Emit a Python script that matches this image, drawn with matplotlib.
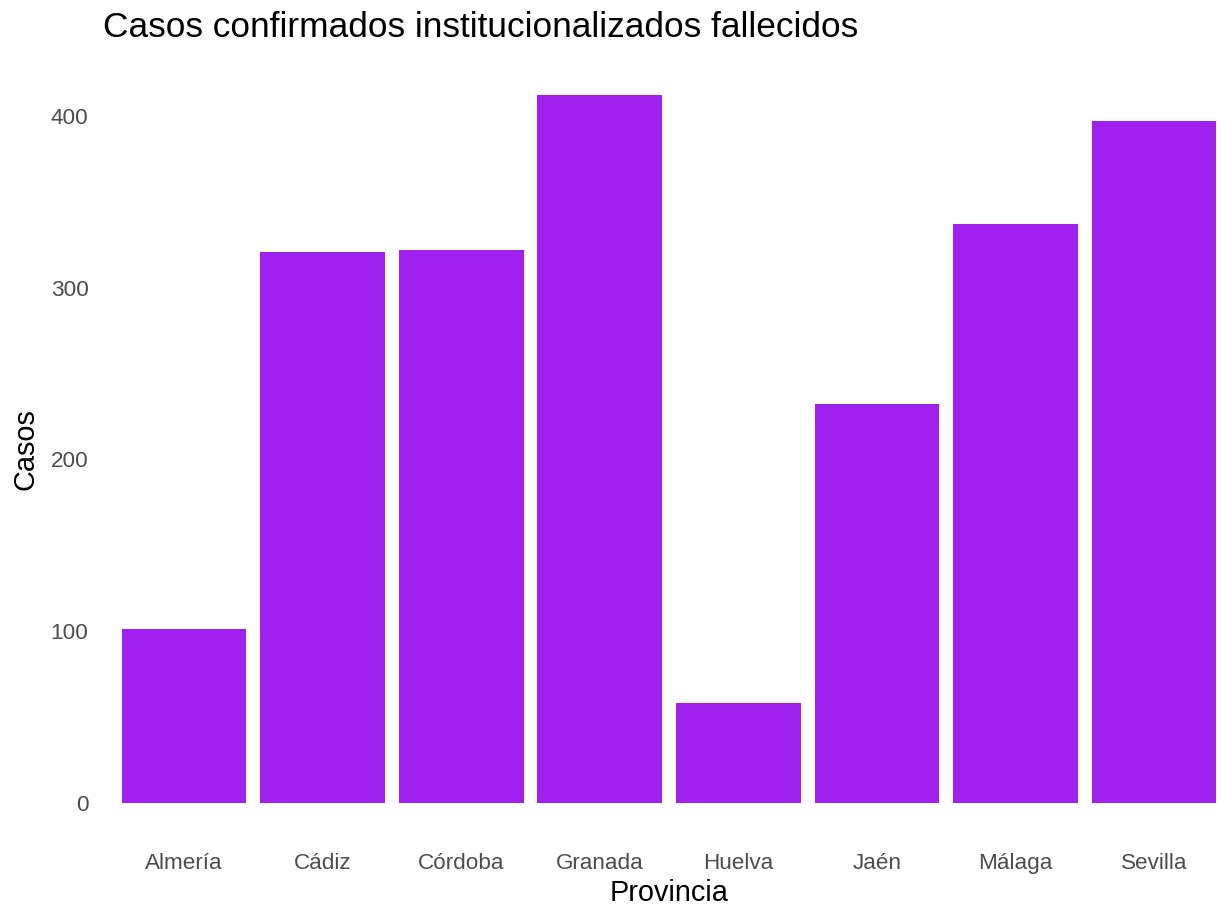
import matplotlib
matplotlib.use("Agg")
import matplotlib.pyplot as plt

provincias = ["Almería", "Cádiz", "Córdoba", "Granada", "Huelva", "Jaén", "Málaga", "Sevilla"]
casos = [101, 321, 322, 412, 58, 232, 337, 397]
yticks = [0, 100, 200, 300, 400]

plt.rcParams['font.family'] = ['Liberation Sans', 'DejaVu Sans']

fig = plt.figure(figsize=(12.22, 9.09), dpi=100)
ax = fig.add_axes([101/1222, 71/909, (1222-101)/1222, (838-60)/909])

x = list(range(1, len(provincias) + 1))
ax.bar(x, casos, width=0.9, color="#A020F0", zorder=2)

ymax = max(casos)
ax.set_ylim(-0.05*ymax, ymax*1.05)
ax.set_xlim(0.4, 8.49)
ax.set_yticks(yticks)
ax.set_xticks(x)
ax.set_xticklabels(provincias)

for s in ax.spines.values():
    s.set_visible(False)
ax.tick_params(axis='both', length=0, labelsize=16.2, colors="#4D4D4D")
ax.tick_params(axis='x', pad=11)
ax.tick_params(axis='y', pad=9)
ax.grid(False)

ax.set_xlabel("Provincia", fontsize=20.8, color="black")
ax.xaxis.set_label_coords((669-101)/(1222-101), -(893-838)/(838-60) + 0.0, transform=ax.transAxes)
ax.xaxis.label.set_va("center")
ax.set_ylabel("Casos", fontsize=20.8, color="black", labelpad=8)
fig.text(103/1222, 1 - 37/909, "Casos confirmados institucionalizados fallecidos",
         fontsize=25.4, color="black", ha="left", va="baseline")

fig.savefig("out.png", dpi=100, facecolor="white")
